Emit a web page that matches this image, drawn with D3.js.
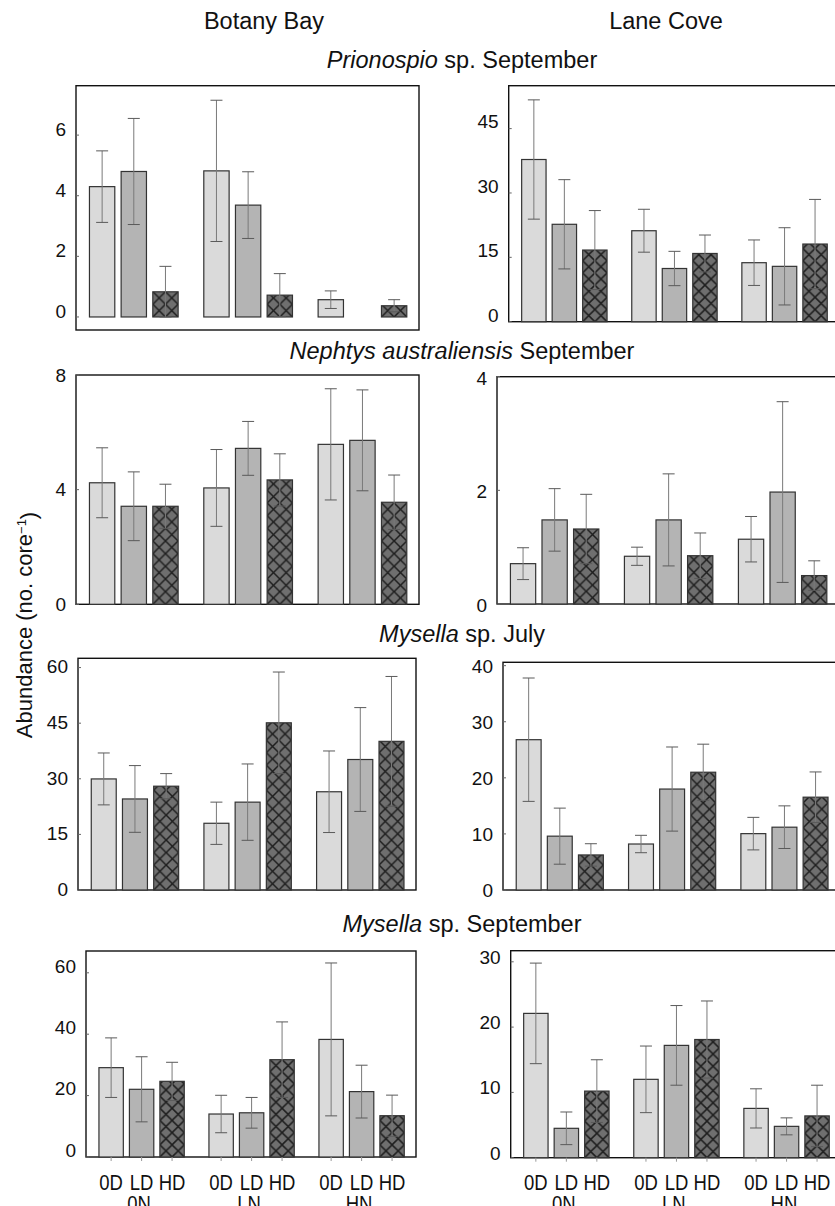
<!DOCTYPE html>
<html>
<head>
<meta charset="utf-8">
<script src="https://cdnjs.cloudflare.com/ajax/libs/d3/7.8.5/d3.min.js"></script>
<style>
body { margin: 0; background: #fff; }
svg { display: block; }
</style>
</head>
<body>
<div id="figure"></div>
<script>
/** Categories **/
var groups = ["0N", "LN", "HN"];
var treatments = ["0D", "LD", "HD"];
var sites = ["Botany Bay", "Lane Cove"];

/** Means and standard errors (order: 0N-0D,LD,HD, LN-..., HN-...) **/
var prionospioBotanyMean = [4.3, 4.8, 0.83, 4.82, 3.69, 0.72, 0.57, 0, 0.37];
var prionospioBotanySE   = [1.18, 1.75, 0.84, 2.33, 1.1, 0.71, 0.29, 0, 0.2];
var prionospioLaneMean   = [37.8, 22.7, 16.7, 21.2, 12.4, 15.9, 13.75, 12.9, 18.1];
var prionospioLaneSE     = [13.9, 10.4, 9.2, 5.0, 4.0, 4.3, 5.3, 9.0, 10.4];

var nephtysBotanyMean = [4.24, 3.42, 3.42, 4.06, 5.44, 4.34, 5.58, 5.72, 3.56];
var nephtysBotanySE   = [1.22, 1.2, 0.77, 1.34, 0.94, 0.91, 1.94, 1.76, 0.95];
var nephtysLaneMean   = [0.71, 1.48, 1.32, 0.84, 1.48, 0.85, 1.14, 1.97, 0.5];
var nephtysLaneSE     = [0.28, 0.55, 0.61, 0.16, 0.81, 0.4, 0.4, 1.59, 0.26];

var mysellaJulBotanyMean = [29.96, 24.56, 28.0, 18.0, 23.7, 45.1, 26.5, 35.2, 40.1];
var mysellaJulBotanySE   = [7.0, 9.0, 3.4, 5.7, 10.3, 13.7, 11.0, 14.0, 17.5];
var mysellaJulLaneMean   = [26.8, 9.6, 6.25, 8.2, 18.0, 21.0, 10.05, 11.2, 16.55];
var mysellaJulLaneSE     = [11.0, 5.0, 2.0, 1.55, 7.5, 5.0, 2.9, 3.8, 4.5];

var mysellaSepBotanyMean = [29.1, 22.05, 24.65, 14.0, 14.4, 31.7, 38.3, 21.3, 13.45];
var mysellaSepBotanySE   = [9.7, 10.6, 6.2, 6.1, 5.0, 12.3, 24.9, 8.6, 6.7];
var mysellaSepLaneMean   = [22.1, 4.5, 10.2, 12.0, 17.2, 18.1, 7.55, 4.8, 6.4];
var mysellaSepLaneSE     = [7.7, 2.5, 4.8, 5.1, 6.1, 5.9, 3.0, 1.3, 4.7];

/** Tick labels **/
var prionospioBotanyTicks = [0, 2, 4, 6];
var prionospioLaneTicks   = [0, 15, 30, 45];
var nephtysBotanyTicks    = [0, 4, 8];
var nephtysLaneTicks      = [0, 2, 4];
var mysellaJulBotanyTicks = [0, 15, 30, 45, 60];
var mysellaJulLaneTicks   = [0, 10, 20, 30, 40];
var mysellaSepBotanyTicks = [0, 20, 40, 60];
var mysellaSepLaneTicks   = [0, 10, 20, 30];

var width = 835,
    height = 1206;

var font = "'Liberation Sans', Arial, Helvetica, sans-serif";
var fills = ["#dadada", "#b4b4b4", "#6f6f6f"];

var svg = d3.select("#figure")
    .append("svg")
    .attr("width", width)
    .attr("height", height);

var defs = svg.append("defs");

/** Panel frames and y ranges **/
var panels = [
  {mean: prionospioBotanyMean, se: prionospioBotanySE, ticks: prionospioBotanyTicks,
   left: 76, right: 419, top: 85.7, bottom: 330, domain: [-0.43, 7.63], shift: -6},
  {mean: prionospioLaneMean, se: prionospioLaneSE, ticks: prionospioLaneTicks,
   left: 508.7, right: 839, top: 85.7, bottom: 321.7, domain: [0, 55], shift: -7},
  {mean: nephtysBotanyMean, se: nephtysBotanySE, ticks: nephtysBotanyTicks,
   left: 76, right: 419, top: 375, bottom: 604.3, domain: [0, 8], shift: 0},
  {mean: nephtysLaneMean, se: nephtysLaneSE, ticks: nephtysLaneTicks,
   left: 497, right: 839, top: 376.7, bottom: 604, domain: [0, 4], shift: 1},
  {mean: mysellaJulBotanyMean, se: mysellaJulBotanySE, ticks: mysellaJulBotanyTicks,
   left: 78, right: 416, top: 658.3, bottom: 890, domain: [0, 62.5], shift: -1},
  {mean: mysellaJulLaneMean, se: mysellaJulLaneSE, ticks: mysellaJulLaneTicks,
   left: 503, right: 840, top: 662.3, bottom: 890, domain: [0, 40.6], shift: 0},
  {mean: mysellaSepBotanyMean, se: mysellaSepBotanySE, ticks: mysellaSepBotanyTicks,
   left: 86, right: 416, top: 951, bottom: 1157, domain: [0, 67.1], shift: -7, xlabels: true},
  {mean: mysellaSepLaneMean, se: mysellaSepLaneSE, ticks: mysellaSepLaneTicks,
   left: 510.7, right: 841, top: 950.7, bottom: 1157.7, domain: [0, 31.7], shift: -5, xlabels: true}
];

panels.forEach(function(p, pi) {
  var g = svg.append("g");

  var x = d3.scaleBand().domain(groups).range([p.left, p.right]);
  var gs = x.bandwidth();
  var xb = d3.scaleBand().domain(treatments)
      .range([0.09 * gs, 0.921 * gs])
      .paddingInner(0.2).paddingOuter(0.1);
  var y = d3.scaleLinear().domain(p.domain).range([p.bottom, p.top]);

  var data = [];
  groups.forEach(function(grp, gi) {
    treatments.forEach(function(tr, ti) {
      var k = gi * 3 + ti;
      data.push({group: grp, treat: tr, ti: ti, mean: p.mean[k], se: p.se[k],
                 x: x(grp) + xb(tr), w: xb.bandwidth(), id: "hatch" + pi + "_" + gi});
    });
  });

  /* one hatch tile per HD bar so the lattice lines up with each bar */
  data.filter(function(d) { return d.ti === 2; }).forEach(function(d) {
    var s = d.w / 2;
    var pat = defs.append("pattern")
        .attr("id", d.id)
        .attr("patternUnits", "userSpaceOnUse")
        .attr("x", d.x).attr("y", y(0))
        .attr("width", s).attr("height", s);
    pat.append("rect").attr("width", s).attr("height", s).attr("fill", fills[2]);
    pat.append("path")
        .attr("d", "M0,0L" + s + "," + s + "M" + s + ",0L0," + s +
                   "M" + (-s) + "," + s + "L" + s + "," + (-s))
        .attr("stroke", "#1e1e1e")
        .attr("stroke-width", 1.5)
        .attr("fill", "none");
  });

  /** Frame **/
  g.append("rect")
      .attr("x", p.left).attr("y", p.top)
      .attr("width", p.right - p.left).attr("height", p.bottom - p.top)
      .attr("fill", "none")
      .attr("stroke", "#111")
      .attr("stroke-width", 1.4);

  /** Y ticks and labels **/
  g.selectAll(".tick").data(p.ticks).enter().append("line")
      .attr("x1", p.left).attr("x2", p.left + 3)
      .attr("y1", function(d) { return y(d); })
      .attr("y2", function(d) { return y(d); })
      .attr("stroke", "#666").attr("stroke-width", 1);

  g.selectAll(".ylab").data(p.ticks).enter().append("text")
      .attr("x", p.left - 10)
      .attr("y", function(d) { return y(d) + p.shift; })
      .attr("dy", "0.36em")
      .attr("text-anchor", "end")
      .style("font-family", font)
      .style("font-size", "19px")
      .style("fill", "#111")
      .text(function(d) { return d; });

  /** Bars **/
  g.selectAll(".bar").data(data).enter().append("rect")
      .attr("x", function(d) { return d.x; })
      .attr("width", function(d) { return d.w; })
      .attr("y", function(d) { return y(d.mean); })
      .attr("height", function(d) { return y(0) - y(d.mean); })
      .attr("fill", function(d) { return d.ti === 2 ? "url(#" + d.id + ")" : fills[d.ti]; })
      .attr("stroke", function(d) { return d.mean === 0 ? "#c4c4c4" : "#333"; })
      .attr("stroke-width", 1.2);

  /** Error bars **/
  var err = g.selectAll(".err").data(data.filter(function(d) { return d.se > 0; }))
      .enter().append("g")
      .attr("stroke", "#5a5a5a")
      .attr("stroke-width", 1);

  err.append("line")
      .attr("x1", function(d) { return d.x + d.w / 2; })
      .attr("x2", function(d) { return d.x + d.w / 2; })
      .attr("y1", function(d) { return y(Math.max(d.mean - d.se, 0)); })
      .attr("y2", function(d) { return y(d.mean + d.se); })
      .attr("stroke", "#7a7a7a");

  [1, -1].forEach(function(sign) {
    err.append("line")
        .attr("x1", function(d) { return d.x + d.w / 2 - 6; })
        .attr("x2", function(d) { return d.x + d.w / 2 + 6; })
        .attr("y1", function(d) { return y(Math.max(d.mean + sign * d.se, 0)); })
        .attr("y2", function(d) { return y(Math.max(d.mean + sign * d.se, 0)); });
  });

  /** X labels on the bottom row (tall, slightly condensed look) **/
  if (p.xlabels) {
    g.selectAll(".xt").data(data).enter().append("line")
        .attr("x1", function(d) { return d.x + d.w / 2; })
        .attr("x2", function(d) { return d.x + d.w / 2; })
        .attr("y1", p.bottom).attr("y2", p.bottom + 4)
        .attr("stroke", "#999");

    g.selectAll(".xl").data(data).enter().append("text")
        .attr("transform", function(d) {
          return "translate(" + (d.x + d.w / 2) + ",1190) scale(1,1.2)";
        })
        .attr("text-anchor", "middle")
        .style("font-family", font)
        .style("font-size", "18.5px")
        .style("fill", "#111")
        .text(function(d) { return d.treat; });

    g.selectAll(".gl").data(groups).enter().append("text")
        .attr("transform", function(d) {
          return "translate(" + (x(d) + gs / 2 - 2) + ",1211) scale(1,1.2)";
        })
        .attr("text-anchor", "middle")
        .style("font-family", font)
        .style("font-size", "18.5px")
        .style("fill", "#111")
        .text(function(d) { return d; });
  }
});

/** Column headings **/
svg.selectAll(".site").data(sites).enter().append("text")
    .attr("x", function(d, i) { return i === 0 ? 264 : 666; })
    .attr("y", 28.5)
    .attr("text-anchor", "middle")
    .style("font-family", font)
    .style("font-size", "23.5px")
    .style("fill", "#111")
    .text(function(d) { return d; });

/** Row headings: italic genus name + plain rest **/
var rowTitles = [
  {it: "Prionospio", rest: " sp. September", y: 68.3},
  {it: "Nephtys australiensis", rest: " September", y: 358.5},
  {it: "Mysella", rest: " sp. July", y: 642},
  {it: "Mysella", rest: " sp. September", y: 931.5}
];

rowTitles.forEach(function(t) {
  var txt = svg.append("text")
      .attr("x", 462)
      .attr("y", t.y)
      .attr("text-anchor", "middle")
      .style("font-family", font)
      .style("font-size", "23.5px")
      .style("fill", "#111");
  txt.append("tspan").style("font-style", "italic").text(t.it);
  txt.append("tspan").text(t.rest);
});

/** Y axis title **/
var yt = svg.append("text")
    .attr("transform", "translate(32,625) rotate(-90)")
    .attr("text-anchor", "middle")
    .style("font-family", font)
    .style("font-size", "22px")
    .style("fill", "#111");
yt.append("tspan").text("Abundance (no. core");
yt.append("tspan").attr("dy", "-0.45em").style("font-size", "13px").text("\u22121");
yt.append("tspan").attr("dy", "0.45em").text(")");
</script>
</body>
</html>
